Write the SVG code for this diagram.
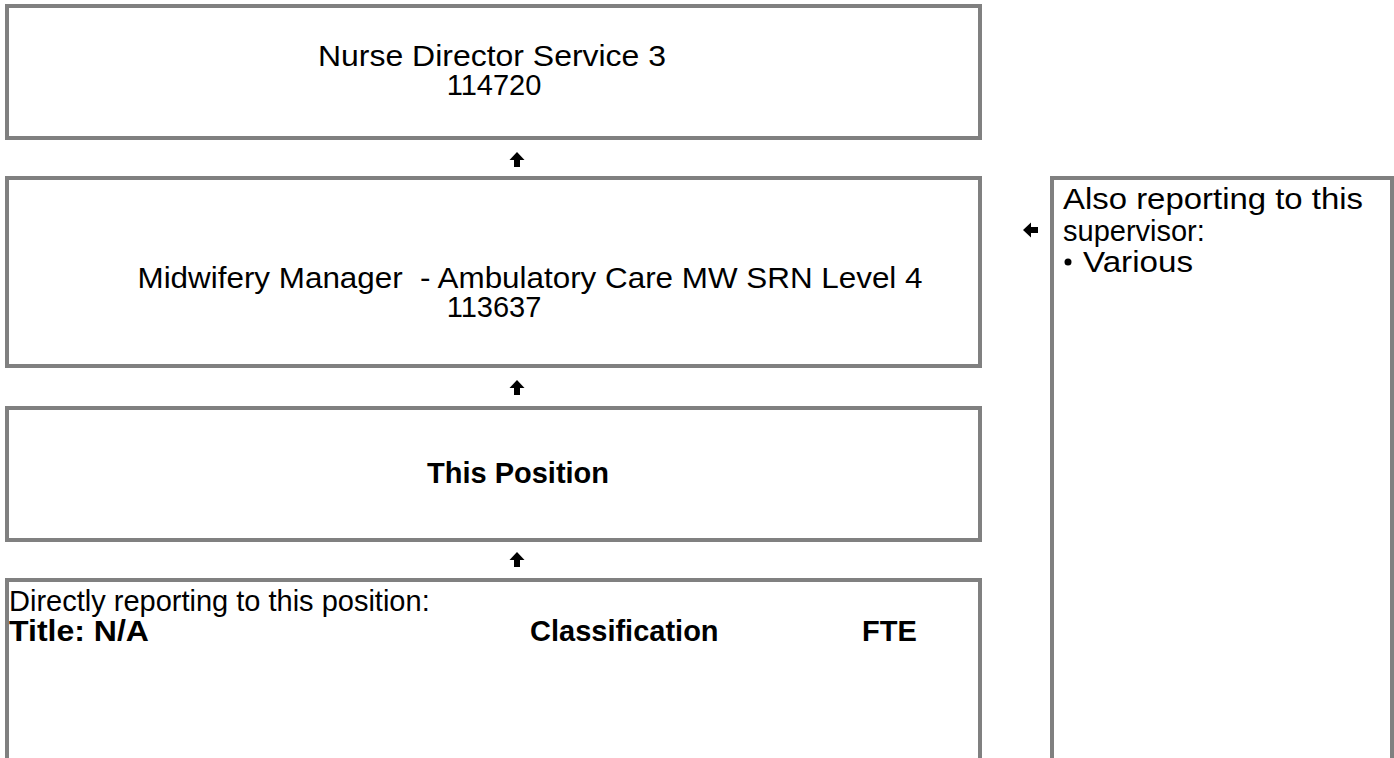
<svg xmlns="http://www.w3.org/2000/svg" width="1394" height="758" viewBox="0 0 1394 758">
<style>
.box{fill:#fff;stroke:#808080;stroke-width:4}
.t{font-family:"Liberation Sans",Arial,sans-serif;font-size:29px;fill:#000}
.c{text-anchor:middle}
.b{font-weight:bold}
.arr{fill:#000}
</style>
<rect width="1394" height="758" fill="#fff"/>
<g id="node-nurse-director">
<rect class="box" x="7" y="6" width="973" height="132"/>
<text class="t c" x="492" y="66" textLength="348" lengthAdjust="spacingAndGlyphs">Nurse Director Service 3</text>
<text class="t c" x="494" y="95">114720</text>
</g>
<g id="node-midwifery-manager">
<rect class="box" x="7" y="178" width="973" height="188"/>
<text class="t c" x="530" y="288" textLength="785" lengthAdjust="spacingAndGlyphs" xml:space="preserve">Midwifery Manager  - Ambulatory Care MW SRN Level 4</text>
<text class="t c" x="494" y="317">113637</text>
</g>
<g id="node-this-position">
<rect class="box" x="7" y="408" width="973" height="132"/>
<text class="t c b" x="518" y="483">This Position</text>
</g>
<g id="node-direct-reports">
<rect class="box" x="7" y="580" width="973" height="200"/>
<text class="t" x="9" y="611">Directly reporting to this position:</text>
<text class="t b" x="9" y="641" textLength="140" lengthAdjust="spacingAndGlyphs">Title: N/A</text>
<text class="t b" x="530" y="641">Classification</text>
<text class="t b" x="862" y="641">FTE</text>
</g>
<g id="node-also-reporting">
<rect class="box" x="1052" y="178" width="340" height="602"/>
<text class="t" x="1063" y="209" textLength="300" lengthAdjust="spacingAndGlyphs">Also reporting to this</text>
<text class="t" x="1063" y="241">supervisor:</text>
<circle cx="1068" cy="262" r="3.5" fill="#000"/>
<text class="t" x="1083" y="272" textLength="110" lengthAdjust="spacingAndGlyphs">Various</text>
</g>
<g id="connectors">
<path class="arr" d="M517 152 L524.5 160 L520 160 L520 167 L514 167 L514 160 L509.5 160 Z"/>
<path class="arr" d="M517 380 L524.5 388 L520 388 L520 395 L514 395 L514 388 L509.5 388 Z"/>
<path class="arr" d="M517 552 L524.5 560 L520 560 L520 567 L514 567 L514 560 L509.5 560 Z"/>
<path class="arr" d="M1023 230 L1031 222.5 L1031 227 L1038 227 L1038 233 L1031 233 L1031 237.5 Z"/>
</g>
</svg>
